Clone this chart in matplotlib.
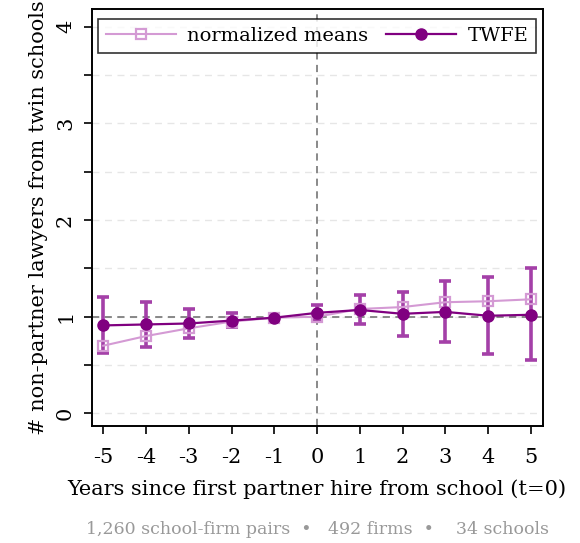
import numpy as np
import matplotlib
matplotlib.use('Agg')
from matplotlib import pyplot as plt

# dane
years = [-5, -4, -3, -2, -1, 0, 1, 2, 3, 4, 5]
twfe = [0.91, 0.92, 0.93, 0.96, 0.99, 1.04, 1.07, 1.03, 1.05, 1.01, 1.02]
twfe_lo = [0.62, 0.69, 0.78, 0.89, 0.97, 0.97, 0.92, 0.80, 0.74, 0.61, 0.55]
twfe_hi = [1.20, 1.15, 1.08, 1.04, 1.01, 1.12, 1.22, 1.26, 1.37, 1.41, 1.50]
norm_means = [0.70, 0.80, 0.88, 0.95, 0.99, 1.00, 1.08, 1.10, 1.15, 1.16, 1.18]
footer = "1,260 school-firm pairs  \u2022   492 firms  \u2022    34 schools"

plt.rcParams['font.family'] = ['DejaVu Serif']

fig = plt.figure(figsize=(5.8, 5.43), dpi=100)
ax = fig.add_axes([0.158, 0.2155, 0.778, 0.7675])

twfe = np.array(twfe)
err = [twfe - np.array(twfe_lo), np.array(twfe_hi) - twfe]

# linie odniesienia
ax.axhline(1, color='#808080', ls=(0, (4, 3)), lw=1.3, zorder=1)
ax.axvline(0, color='#808080', ls=(0, (4, 3)), lw=1.3, zorder=1)

ax.errorbar(years, twfe, yerr=err, fmt='none', ecolor='#a440a8', elinewidth=2.6,
            capsize=4, capthick=2.6, zorder=2)
ax.plot(years, norm_means, color='#d49ad4', lw=1.5, marker='s', ms=7,
        mfc='none', mec='#d49ad4', mew=1.6, label='normalized means', zorder=3)
ax.plot(years, twfe, color='#800080', lw=1.6, marker='o', ms=8,
        label='TWFE', zorder=4)

ax.set_xlim(-5.27, 5.28)
ax.set_ylim(-0.13, 4.18)
ax.set_xticks(years)
ax.set_xticklabels([str(y) for y in years])
ax.set_yticks(np.arange(0, 4.01, 0.5))
ax.set_yticklabels(['0', '', '1', '', '2', '', '3', '', '4'], rotation=90, va='center')
ax.tick_params(axis='both', labelsize=15, length=6, width=1.2, direction='out')
ax.tick_params(axis='x', pad=10)
ax.tick_params(axis='y', pad=6)
ax.grid(axis='y', color='#e6e6e6', ls=(0, (5, 4)), lw=1)
ax.set_axisbelow(True)
for s in ax.spines.values():
    s.set_linewidth(1.4)

ax.set_xlabel('Years since first partner hire from school (t=0)', fontsize=15, labelpad=9)
ax.set_ylabel('# non-partner lawyers from twin schools', fontsize=15, labelpad=6)

leg = ax.legend(loc='lower left', ncol=2, fontsize=14, frameon=True, fancybox=False,
                edgecolor='black', mode='expand', borderaxespad=0,
                bbox_to_anchor=(0.014, 0.895, 0.971, 0.089),
                handlelength=3.6, handletextpad=0.6, columnspacing=1.2)
leg.get_frame().set_linewidth(1.2)

fig.text(0.547, 0.025, footer, fontsize=12.5, color='#999999', ha='center', va='center')

fig.savefig('out.png', dpi=100)
